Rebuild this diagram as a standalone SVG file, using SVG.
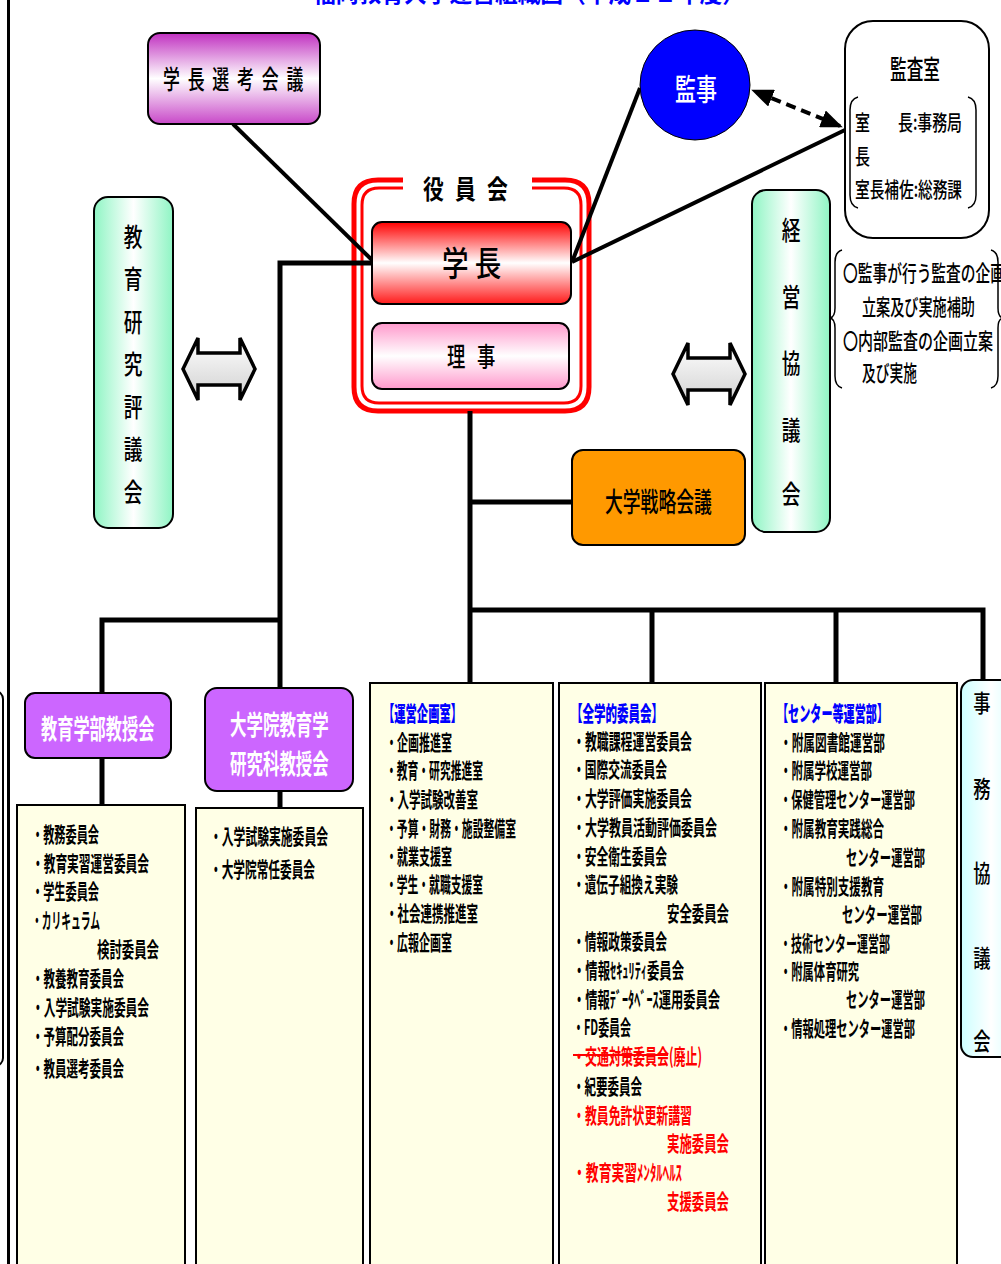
<svg xmlns="http://www.w3.org/2000/svg" width="1001" height="1264" viewBox="0 0 1001 1264">
<style>
text{font-family:"Noto Sans CJK JP","Noto Sans",sans-serif;dominant-baseline:central;}
.l{font-size:21px;font-weight:700;fill:#000;}
.r{fill:#f00;}
.h{font-size:21px;font-weight:900;fill:#0000ff;}
.n{font-weight:500;fill:#000;}
.w{font-weight:700;fill:#fff;}
.box{stroke:#000;stroke-width:2;}
.col{fill:#ffffe6;stroke:#000;stroke-width:2;}
.ln{stroke:#000;stroke-width:5;fill:none;}
.v{text-anchor:middle;font-weight:500;fill:#000;}
</style>
<defs>
<linearGradient id="gMag" x1="0" y1="0" x2="0" y2="1"><stop offset="0" stop-color="#c030c0"/><stop offset="0.5" stop-color="#fff"/><stop offset="1" stop-color="#c848c8"/></linearGradient>
<linearGradient id="gRed" x1="0" y1="0" x2="0" y2="1"><stop offset="0" stop-color="#ff0000"/><stop offset="0.5" stop-color="#fff"/><stop offset="1" stop-color="#ff1a1a"/></linearGradient>
<linearGradient id="gPink" x1="0" y1="0" x2="0" y2="1"><stop offset="0" stop-color="#ff99cc"/><stop offset="0.5" stop-color="#fff"/><stop offset="1" stop-color="#ff99cc"/></linearGradient>
<linearGradient id="gMint" x1="0" y1="0" x2="1" y2="0"><stop offset="0" stop-color="#8ff5c4"/><stop offset="0.5" stop-color="#fff"/><stop offset="1" stop-color="#8ff5c4"/></linearGradient>
<linearGradient id="gCyan" x1="0" y1="0" x2="1" y2="0"><stop offset="0" stop-color="#ccffff"/><stop offset="0.5" stop-color="#fff"/><stop offset="1" stop-color="#ccffff"/></linearGradient>
<linearGradient id="gArr" x1="0" y1="0" x2="0" y2="1"><stop offset="0" stop-color="#fff"/><stop offset="1" stop-color="#d0d0d0"/></linearGradient>
<marker id="ah" markerUnits="userSpaceOnUse" markerWidth="22" markerHeight="18" refX="19" refY="9" orient="auto-start-reverse"><path d="M0,0 L22,9 L0,18 Z" fill="#000"/></marker>
</defs>
<rect width="1001" height="1264" fill="#fff"/>

<g id="title"><text x="529" y="-9" text-anchor="middle" style="font-size:24px;font-weight:700;fill:#0000ff" textLength="432" lengthAdjust="spacingAndGlyphs">福岡教育大学運営組織図（平成２２年度）</text></g>
<g id="page-border"><line x1="8.5" y1="0" x2="8.5" y2="1264" stroke="#000" stroke-width="3"/><rect x="-30" y="691" width="33" height="375" rx="8" fill="#fff" stroke="#000" stroke-width="2"/></g>

<g id="yakuinkai">
<path d="M403,180 L378,180 Q354,180 354,204 L354,387 Q354,411 378,411 L565,411 Q589,411 589,387 L589,204 Q589,180 565,180 L532,180" fill="none" stroke="#f00" stroke-width="5"/>
<path d="M403,188 L379,188 Q362,188 362,205 L362,386 Q362,403 379,403 L564,403 Q581,403 581,386 L581,205 Q581,188 564,188 L532,188" fill="none" stroke="#f00" stroke-width="3"/>
<text class="n" transform="translate(423,188) scale(0.8,1)" style="font-size:26px;font-weight:700;letter-spacing:14px">役員会</text>
</g>

<g id="connectors">
<line class="ln" x1="233" y1="124" x2="372" y2="260" style="stroke-width:4"/>
<line class="ln" x1="640" y1="88" x2="572" y2="262" style="stroke-width:4"/>
<line class="ln" x1="845" y1="130" x2="572" y2="262" style="stroke-width:4"/>
<polyline class="ln" points="372,263 280,263 280,688"/>
<polyline class="ln" points="102,693 102,620 282,620"/>
<line class="ln" x1="102" y1="758" x2="102" y2="805"/>
<line class="ln" x1="280" y1="791" x2="280" y2="808"/>
<line class="ln" x1="470" y1="411" x2="470" y2="683"/>
<line class="ln" x1="470" y1="502" x2="572" y2="502"/>
<polyline class="ln" points="468,610 983,610 983,680"/>
<line class="ln" x1="652" y1="610" x2="652" y2="683"/>
<line class="ln" x1="836" y1="610" x2="836" y2="683"/>
<line x1="840" y1="126" x2="754" y2="91" stroke="#000" stroke-width="4" stroke-dasharray="10,6" marker-start="url(#ah)" marker-end="url(#ah)"/>
<path d="M183,369 L198,338 L198,353 L240,353 L240,338 L255,369 L240,400 L240,385 L198,385 L198,400 Z" fill="url(#gArr)" stroke="#000" stroke-width="3.5" stroke-linejoin="miter"/>
<path d="M673,374 L688,343 L688,358 L730,358 L730,343 L745,374 L730,405 L730,390 L688,390 L688,405 Z" fill="url(#gArr)" stroke="#000" stroke-width="3.5" stroke-linejoin="miter"/>
</g>

<g id="gakucho-senko">
<rect class="box" x="148" y="33" width="172" height="91" rx="12" fill="url(#gMag)"/>
<text class="n" transform="translate(163,78) scale(0.65,1)" style="font-size:26px;letter-spacing:12px">学長選考会議</text>
</g>

<g id="kanji">
<circle cx="695" cy="85" r="55" fill="#0000ff" stroke="#000" stroke-width="1"/>
<text class="w" transform="translate(675,87) scale(0.7,1)" style="font-size:30px;font-weight:500">監事</text>
</g>

<g id="kansashitsu">
<rect class="box" x="845" y="21" width="144" height="217" rx="28" fill="#fff"/>
<text class="n" x="890" y="67" style="font-size:26px" textLength="50" lengthAdjust="spacingAndGlyphs">監査室</text>
<path d="M858,97 Q850,99 850,110 L850,195 Q850,206 858,208" fill="none" stroke="#000" stroke-width="1.5"/>
<path d="M968,97 Q976,99 976,110 L976,195 Q976,206 968,208" fill="none" stroke="#000" stroke-width="1.5"/>
<text class="n" x="855" y="121" style="font-size:21px" textLength="15" lengthAdjust="spacingAndGlyphs">室</text>
<text class="n" x="898" y="121" style="font-size:21px" textLength="64" lengthAdjust="spacingAndGlyphs">長:事務局</text>
<text class="n" x="855" y="155" style="font-size:21px" textLength="15" lengthAdjust="spacingAndGlyphs">長</text>
<text class="n" x="855" y="188" style="font-size:21px" textLength="107" lengthAdjust="spacingAndGlyphs">室長補佐:総務課</text>
</g>

<g id="kansa-note">
<path d="M842,250 Q835,252 835,262 L835,308 Q835,317 830,318 Q835,319 835,328 L835,376 Q835,386 842,388" fill="none" stroke="#000" stroke-width="1.5"/>
<path d="M991,250 Q998,252 998,262 L998,308 Q998,317 1003,318 Q998,319 998,328 L998,376 Q998,386 991,388" fill="none" stroke="#000" stroke-width="1.5"/>
<text class="n" x="843" y="271" style="font-size:22px" textLength="162" lengthAdjust="spacingAndGlyphs">〇監事が行う監査の企画</text>
<text class="n" x="862" y="305" style="font-size:22px" textLength="113" lengthAdjust="spacingAndGlyphs">立案及び実施補助</text>
<text class="n" x="843" y="339" style="font-size:22px" textLength="150" lengthAdjust="spacingAndGlyphs">〇内部監査の企画立案</text>
<text class="n" x="862" y="371" style="font-size:22px" textLength="55" lengthAdjust="spacingAndGlyphs">及び実施</text>
</g>

<g id="gakucho">
<rect class="box" x="372" y="222" width="199" height="82" rx="10" fill="url(#gRed)"/>
<text class="n" transform="translate(442,262) scale(0.78,1)" style="font-size:34px;letter-spacing:8px">学長</text>
</g>

<g id="riji">
<rect class="box" x="372" y="323" width="197" height="66" rx="10" fill="url(#gPink)"/>
<text class="n" transform="translate(447,355) scale(0.68,1)" style="font-size:27px;letter-spacing:17px">理事</text>
</g>

<g id="kyoiku-kenkyu-hyogikai">
<rect class="box" x="94" y="197" width="79" height="331" rx="14" fill="url(#gMint)"/>
<text class="v" transform="translate(133,236) scale(0.72,1)" style="font-size:26px">教</text>
<text class="v" transform="translate(133,278) scale(0.72,1)" style="font-size:26px">育</text>
<text class="v" transform="translate(133,321) scale(0.72,1)" style="font-size:26px">研</text>
<text class="v" transform="translate(133,363) scale(0.72,1)" style="font-size:26px">究</text>
<text class="v" transform="translate(133,406) scale(0.72,1)" style="font-size:26px">評</text>
<text class="v" transform="translate(133,448) scale(0.72,1)" style="font-size:26px">議</text>
<text class="v" transform="translate(133,491) scale(0.72,1)" style="font-size:26px">会</text>
</g>

<g id="keiei-kyogikai">
<rect class="box" x="752" y="190" width="78" height="342" rx="14" fill="url(#gMint)"/>
<text class="v" transform="translate(791,229) scale(0.72,1)" style="font-size:26px">経</text>
<text class="v" transform="translate(791,296) scale(0.72,1)" style="font-size:26px">営</text>
<text class="v" transform="translate(791,362) scale(0.72,1)" style="font-size:26px">協</text>
<text class="v" transform="translate(791,429) scale(0.72,1)" style="font-size:26px">議</text>
<text class="v" transform="translate(791,493) scale(0.72,1)" style="font-size:26px">会</text>
</g>

<g id="senryaku">
<rect class="box" x="572" y="450" width="173" height="95" rx="11" fill="#ff9900"/>
<text class="n" transform="translate(605,500) scale(0.66,1)" style="font-size:27px">大学戦略会議</text>
</g>

<g id="kyoikugakubu-kyojukai">
<rect class="box" x="25" y="693" width="146" height="65" rx="10" fill="#cc66ff"/>
<text class="w" transform="translate(41,727) scale(0.6,1)" style="font-size:27px">教育学部教授会</text>
</g>

<g id="daigakuin-kyojukai">
<rect class="box" x="205" y="688" width="148" height="103" rx="12" fill="#cc66ff"/>
<text class="w" transform="translate(230,723) scale(0.61,1)" style="font-size:27px">大学院教育学</text>
<text class="w" transform="translate(230,762) scale(0.61,1)" style="font-size:27px">研究科教授会</text>
</g>

<g id="list-gakubu">
<rect class="col" x="17" y="805" width="168" height="470"/>
<text class="l" x="32" y="833" textLength="67" lengthAdjust="spacingAndGlyphs">・教務委員会</text>
<text class="l" x="32" y="862" textLength="117" lengthAdjust="spacingAndGlyphs">・教育実習運営委員会</text>
<text class="l" x="32" y="890" textLength="67" lengthAdjust="spacingAndGlyphs">・学生委員会</text>
<text class="l" x="32" y="919" textLength="68" lengthAdjust="spacingAndGlyphs">・カリキュラム</text>
<text class="l" x="97" y="948" textLength="62" lengthAdjust="spacingAndGlyphs">検討委員会</text>
<text class="l" x="32" y="977" textLength="92" lengthAdjust="spacingAndGlyphs">・教養教育委員会</text>
<text class="l" x="32" y="1006" textLength="117" lengthAdjust="spacingAndGlyphs">・入学試験実施委員会</text>
<text class="l" x="32" y="1035" textLength="92" lengthAdjust="spacingAndGlyphs">・予算配分委員会</text>
<text class="l" x="32" y="1067" textLength="92" lengthAdjust="spacingAndGlyphs">・教員選考委員会</text>
</g>

<g id="list-daigakuin">
<rect class="col" x="196" y="808" width="167" height="470"/>
<text class="l" x="210" y="835" textLength="118" lengthAdjust="spacingAndGlyphs">・入学試験実施委員会</text>
<text class="l" x="210" y="868" textLength="105" lengthAdjust="spacingAndGlyphs">・大学院常任委員会</text>
</g>

<g id="unei-kikaku">
<rect class="col" x="370" y="683" width="183" height="600"/>
<text class="h" x="383" y="712" textLength="79" lengthAdjust="spacingAndGlyphs">【運営企画室】</text>
<text class="l" x="386" y="741" textLength="66" lengthAdjust="spacingAndGlyphs">・企画推進室</text>
<text class="l" x="386" y="769" textLength="97" lengthAdjust="spacingAndGlyphs">・教育・研究推進室</text>
<text class="l" x="386" y="798" textLength="92" lengthAdjust="spacingAndGlyphs">・入学試験改善室</text>
<text class="l" x="386" y="827" textLength="130" lengthAdjust="spacingAndGlyphs">・予算・財務・施設整備室</text>
<text class="l" x="386" y="855" textLength="66" lengthAdjust="spacingAndGlyphs">・就業支援室</text>
<text class="l" x="386" y="883" textLength="97" lengthAdjust="spacingAndGlyphs">・学生・就職支援室</text>
<text class="l" x="386" y="912" textLength="92" lengthAdjust="spacingAndGlyphs">・社会連携推進室</text>
<text class="l" x="386" y="941" textLength="66" lengthAdjust="spacingAndGlyphs">・広報企画室</text>
</g>

<g id="zengakuteki">
<rect class="col" x="559" y="683" width="202" height="600"/>
<text class="h" x="571" y="712" textLength="92" lengthAdjust="spacingAndGlyphs">【全学的委員会】</text>
<text class="l" x="573" y="740" textLength="119" lengthAdjust="spacingAndGlyphs">・教職課程運営委員会</text>
<text class="l" x="573" y="768" textLength="94" lengthAdjust="spacingAndGlyphs">・国際交流委員会</text>
<text class="l" x="573" y="797" textLength="119" lengthAdjust="spacingAndGlyphs">・大学評価実施委員会</text>
<text class="l" x="573" y="826" textLength="144" lengthAdjust="spacingAndGlyphs">・大学教員活動評価委員会</text>
<text class="l" x="573" y="855" textLength="94" lengthAdjust="spacingAndGlyphs">・安全衛生委員会</text>
<text class="l" x="573" y="883" textLength="105" lengthAdjust="spacingAndGlyphs">・遺伝子組換え実験</text>
<text class="l" x="667" y="912" textLength="62" lengthAdjust="spacingAndGlyphs">安全委員会</text>
<text class="l" x="573" y="940" textLength="94" lengthAdjust="spacingAndGlyphs">・情報政策委員会</text>
<text class="l" x="573" y="969" textLength="111" lengthAdjust="spacingAndGlyphs">・情報ｾｷｭﾘﾃｨ委員会</text>
<text class="l" x="573" y="998" textLength="147" lengthAdjust="spacingAndGlyphs">・情報ﾃﾞｰﾀﾍﾞｰｽ運用委員会</text>
<text class="l" x="573" y="1026" textLength="58" lengthAdjust="spacingAndGlyphs">・FD委員会</text>
<text class="l r" x="573" y="1055" textLength="129" lengthAdjust="spacingAndGlyphs">・交通対策委員会(廃止)</text>
<line x1="573" y1="1055" x2="668" y2="1055" stroke="#f00" stroke-width="2"/>
<text class="l" x="573" y="1085" textLength="69" lengthAdjust="spacingAndGlyphs">・紀要委員会</text>
<text class="l r" x="573" y="1114" textLength="119" lengthAdjust="spacingAndGlyphs">・教員免許状更新講習</text>
<text class="l r" x="667" y="1142" textLength="62" lengthAdjust="spacingAndGlyphs">実施委員会</text>
<text class="l r" x="573" y="1171" textLength="109" lengthAdjust="spacingAndGlyphs">・教育実習ﾒﾝﾀﾙﾍﾙｽ</text>
<text class="l r" x="667" y="1200" textLength="62" lengthAdjust="spacingAndGlyphs">支援委員会</text>
</g>

<g id="center-unei">
<rect class="col" x="765" y="683" width="192" height="600"/>
<text class="h" x="777" y="712" textLength="111" lengthAdjust="spacingAndGlyphs">【センター等運営部】</text>
<text class="l" x="780" y="741" textLength="105" lengthAdjust="spacingAndGlyphs">・附属図書館運営部</text>
<text class="l" x="780" y="769" textLength="92" lengthAdjust="spacingAndGlyphs">・附属学校運営部</text>
<text class="l" x="780" y="798" textLength="135" lengthAdjust="spacingAndGlyphs">・保健管理センター運営部</text>
<text class="l" x="780" y="827" textLength="104" lengthAdjust="spacingAndGlyphs">・附属教育実践総合</text>
<text class="l" x="846" y="856" textLength="79" lengthAdjust="spacingAndGlyphs">センター運営部</text>
<text class="l" x="780" y="885" textLength="104" lengthAdjust="spacingAndGlyphs">・附属特別支援教育</text>
<text class="l" x="842" y="913" textLength="80" lengthAdjust="spacingAndGlyphs">センター運営部</text>
<text class="l" x="780" y="942" textLength="110" lengthAdjust="spacingAndGlyphs">・技術センター運営部</text>
<text class="l" x="780" y="970" textLength="79" lengthAdjust="spacingAndGlyphs">・附属体育研究</text>
<text class="l" x="846" y="998" textLength="79" lengthAdjust="spacingAndGlyphs">センター運営部</text>
<text class="l" x="780" y="1027" textLength="135" lengthAdjust="spacingAndGlyphs">・情報処理センター運営部</text>
</g>

<g id="jimu-kyogikai">
<rect class="box" x="961" y="680" width="60" height="377" rx="12" fill="url(#gCyan)"/>
<text class="v" transform="translate(982,702) scale(0.72,1)" style="font-size:24px">事</text>
<text class="v" transform="translate(982,788) scale(0.72,1)" style="font-size:24px">務</text>
<text class="v" transform="translate(982,872) scale(0.72,1)" style="font-size:24px">協</text>
<text class="v" transform="translate(982,957) scale(0.72,1)" style="font-size:24px">議</text>
<text class="v" transform="translate(982,1040) scale(0.72,1)" style="font-size:24px">会</text>
</g>
</svg>
